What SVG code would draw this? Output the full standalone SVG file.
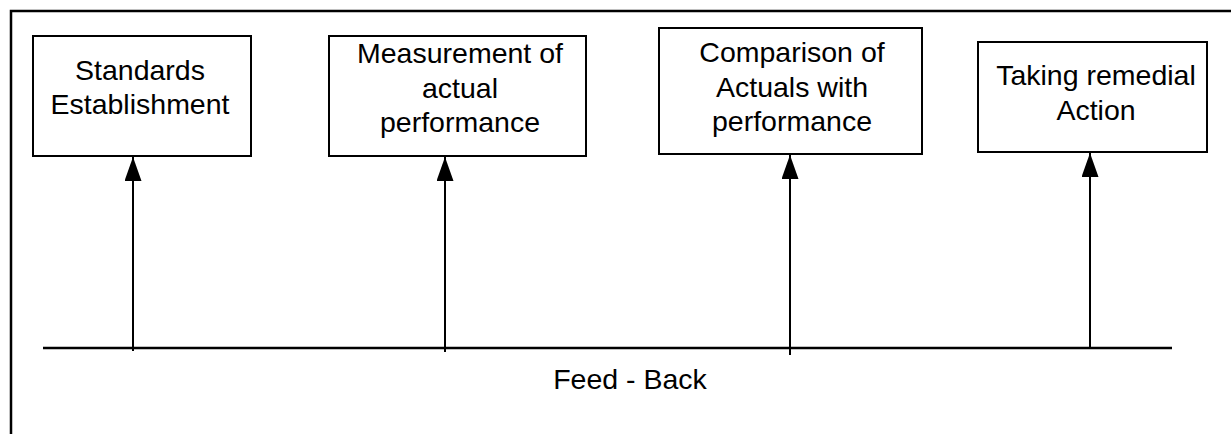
<svg xmlns="http://www.w3.org/2000/svg" width="1231" height="434" viewBox="0 0 1231 434">
<defs>
<style>
.box{fill:#fff;stroke:#000;stroke-width:2}
.t{font-family:"Liberation Sans",Arial,sans-serif;font-size:28.5px;fill:#000;text-anchor:middle}
.ln{stroke:#000;stroke-width:2;fill:none}
</style>
<marker id="ah" markerWidth="24" markerHeight="17" refX="24" refY="8.5" orient="auto" markerUnits="userSpaceOnUse" viewBox="0 0 24 17">
<path d="M0,0 L24,8.5 L0,17 Z" fill="#000"/>
</marker>
</defs>
<rect width="1231" height="434" fill="#fff"/>
<path d="M11,440 V11 H1240" fill="none" stroke="#000" stroke-width="2.5"/>
<g id="n1">
<rect class="box" x="33" y="36" width="218" height="120"/>
<text class="t" x="140" y="80">Standards</text>
<text class="t" x="140" y="114">Establishment</text>
</g>
<g id="n2">
<rect class="box" x="329" y="36" width="257" height="120"/>
<text class="t" x="460" y="63">Measurement of</text>
<text class="t" x="460" y="98">actual</text>
<text class="t" x="460" y="132">performance</text>
</g>
<g id="n3">
<rect class="box" x="659" y="28" width="263" height="126"/>
<text class="t" x="792" y="62">Comparison of</text>
<text class="t" x="792" y="97">Actuals with</text>
<text class="t" x="792" y="131">performance</text>
</g>
<g id="n4">
<rect class="box" x="978" y="42" width="229" height="110"/>
<text class="t" x="1096" y="85">Taking remedial</text>
<text class="t" x="1096" y="120">Action</text>
</g>
<g id="connectors">
<line x1="43" y1="348" x2="1172" y2="348" stroke="#000" stroke-width="2.5"/>
<line class="ln" x1="133" y1="351" x2="133" y2="157" marker-end="url(#ah)"/>
<line class="ln" x1="445" y1="352" x2="445" y2="157" marker-end="url(#ah)"/>
<line class="ln" x1="790" y1="355" x2="790" y2="155" marker-end="url(#ah)"/>
<line class="ln" x1="1090" y1="348" x2="1090" y2="153" marker-end="url(#ah)"/>
</g>
<text class="t" x="630" y="389">Feed - Back</text>
</svg>
